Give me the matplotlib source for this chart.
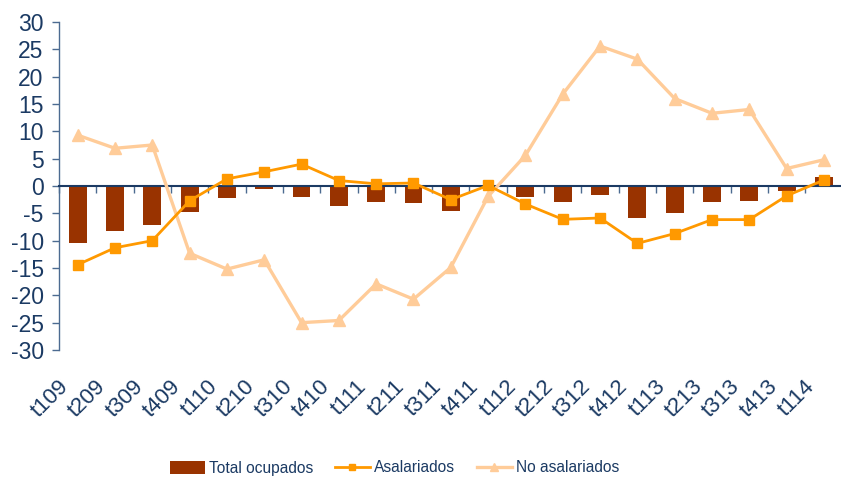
import numpy as np
import matplotlib
matplotlib.use("Agg")
import matplotlib.pyplot as plt
import matplotlib.transforms as mtransforms
from matplotlib.lines import Line2D
from matplotlib.patches import Patch

categories = ["t109", "t209", "t309", "t409", "t110", "t210", "t310", "t410",
              "t111", "t211", "t311", "t411", "t112", "t212", "t312", "t412",
              "t113", "t213", "t313", "t413", "t114"]
total_ocupados = [-10.4, -8.3, -7.1, -4.7, -2.2, -0.5, -2.0, -3.6, -2.9, -3.2, -4.5,
                  -0.1, -2.1, -2.9, -1.6, -5.8, -4.9, -2.9, -2.7, -0.9, 1.6]
asalariados = [-14.4, -11.3, -10.0, -2.7, 1.3, 2.6, 4.0, 1.0, 0.4, 0.55, -2.5,
               0.1, -3.3, -6.1, -5.85, -10.5, -8.7, -6.15, -6.15, -1.8, 1.1]
no_asalariados = [9.3, 6.9, 7.5, -12.3, -15.2, -13.5, -25.0, -24.6, -17.9, -20.7, -14.9,
                  -1.9, 5.6, 16.8, 25.6, 23.2, 16.0, 13.3, 14.0, 3.2, 4.8]
yticks = [30, 25, 20, 15, 10, 5, 0, -5, -10, -15, -20, -25, -30]

navy = "#1B3A63"
axis_col = "#4C6B91"

plt.rcParams['font.family'] = ['Liberation Sans', 'DejaVu Sans']

fig = plt.figure(figsize=(8.41, 4.78), dpi=100)
ax = fig.add_axes([59/841, 1-350/478, (842.6-59)/841, (350-22)/478])

x = np.arange(len(categories))
ax.bar(x, total_ocupados, width=0.48, color="#993300", zorder=2)
ax.plot(x, asalariados, color="#FF9900", lw=2.0, marker="s", ms=6.5, zorder=4)
ax.plot(x, no_asalariados, color="#FFCC99", lw=2.4, marker="^", ms=8, zorder=3)

ax.set_xlim(-0.5, len(categories) - 0.5)
ax.set_ylim(-30, 30)
ax.set_yticks(yticks)
ax.set_yticklabels([str(v) for v in yticks])
ax.tick_params(axis="y", direction="out", length=5, width=1, color=axis_col,
               labelsize=16.5, labelcolor=navy, pad=6)

# zero line with boundary tick marks
ax.spines["bottom"].set_position(("data", 0))
ax.spines["bottom"].set_color(navy)
ax.spines["bottom"].set_linewidth(1.5)
ax.set_xticks(np.arange(-0.5, len(categories), 1.0))
ax.set_xticklabels([])
ax.tick_params(axis="x", direction="out", length=5, width=1, color=axis_col)

for s in ["top", "right"]:
    ax.spines[s].set_visible(False)
ax.spines["left"].set_color(axis_col)
ax.spines["left"].set_linewidth(1)

# category labels at the bottom of the plot area
sec = ax.secondary_xaxis("bottom")
sec.set_xticks(x)
sec.set_xticklabels(categories, rotation=45, ha="right", va="top")
sec.tick_params(axis="x", length=0, labelsize=16, labelcolor=navy, pad=19)
for s in sec.spines.values():
    s.set_visible(False)
offset = mtransforms.ScaledTranslation(-5/100, 0, fig.dpi_scale_trans)
for lab in sec.get_xticklabels():
    lab.set_transform(lab.get_transform() + offset)

handles = [
    Patch(facecolor="#993300"),
    Line2D([0], [0], color="#FF9900", lw=2.0, marker="s", ms=5),
    Line2D([0], [0], color="#FFCC99", lw=2.4, marker="^", ms=6),
]
labels = ["Total ocupados", "Asalariados", "No asalariados"]
leg = fig.legend(handles, labels, loc="center", bbox_to_anchor=(0.469, 1-468/478),
                 ncol=3, frameon=False, handlelength=2.25,
                 handleheight=0.9, handletextpad=0.25, columnspacing=1.4,
                 prop={'family': ['Liberation Sans', 'DejaVu Sans'], 'size': 11.2})
for t in leg.get_texts():
    t.set_color(navy)

fig.savefig("out.png", dpi=100)
